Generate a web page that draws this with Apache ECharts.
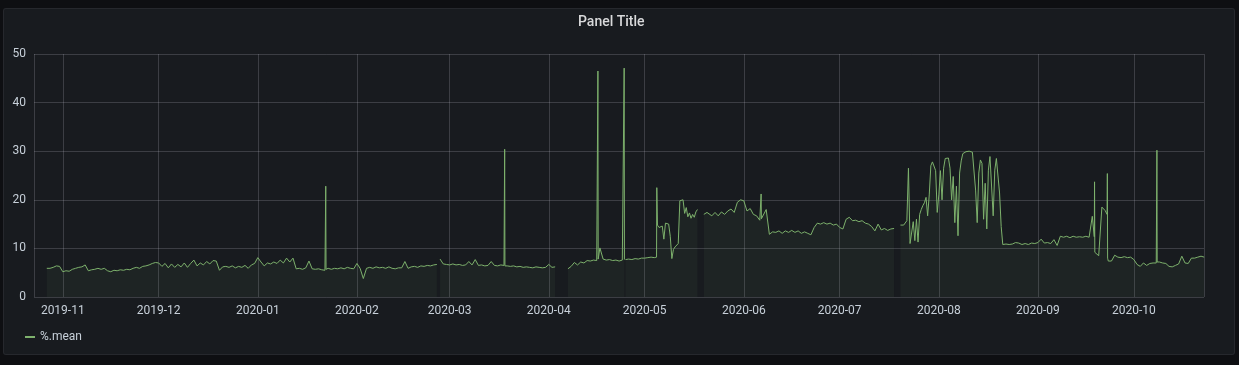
<!DOCTYPE html>
<html><head><meta charset="utf-8">
<script src="https://cdn.jsdelivr.net/npm/echarts@6/dist/echarts.min.js"></script>
<style>
html,body{margin:0;padding:0;background:#0e0f12;width:1239px;height:365px;overflow:hidden}
#panel{position:absolute;left:3px;top:8px;width:1230px;height:345px;background:#181b1f;border:1px solid rgba(204,204,220,0.08);border-radius:3px}
#chart{position:absolute;left:0;top:0;width:1239px;height:365px}
</style></head><body><div id="panel"></div><div id="chart"></div>
<script>
// ---- data ----
const seriesName = '%.mean';
const yTicks = [0, 10, 20, 30, 40, 50];

// daily values, 2019-10-27 .. 2019-11-30
const octNov2019 = [5.9,5.9,6.1,6.4,6.3,5.2,5.4,5.3,5.7,5.9,6.1,6.2,6.6,5.4,5.6,5.7,5.9,5.7,5.9,5.4,5.2,5.5,5.4,5.6,5.5,5.7,5.6,5.9,6.1,5.9,6.3,6.4,6.6,6.9,7.1];
// daily, 2019-12-01 ..
const dec2019 = [7.0,6.3,6.9,6.0,6.8,6.1,6.7,6.2,7.0,6.1,6.9,7.6,6.4,7.0,6.6,7.3,6.8,7.5,7.4,5.5,6.2,6.3,6.1,6.4,6.0,6.3,6.1,6.5,5.9,6.6,6.9];
const jan2020 = [8.1,7.2,6.4,7.0,6.8,7.2,6.9,7.6,7.0,8.0,7.2,8.0,5.8,5.9,5.7,6.0,7.4,5.8,5.7,5.8,5.6,5.5,5.9,5.7,5.9,5.8,6.0,5.8,6.1,5.9,5.8];
const feb2020 = [6.9,5.9,3.8,5.9,6.1,5.9,6.2,6.0,6.1,5.9,6.2,5.9,5.8,6.0,6.0,7.3,5.9,6.2,6.3,6.1,6.4,6.3,6.5,6.4,6.6,6.7,7.8,6.8,6.7];
const mar2020 = [6.6,6.8,6.6,6.7,6.5,6.6,7.3,6.6,7.7,6.5,6.6,6.4,6.5,7.3,6.5,6.4,6.6,6.5,6.4,6.3,6.4,6.2,6.3,6.1,6.2,6.1,6.0,6.2,6.1,6.0,6.1];
const apr2020 = [6.7,6.1,6.2,null,null,null,5.8,6.3,7.1,6.6,7.2,7.0,7.5,7.4,7.6,7.5,10.1,7.8,7.6,7.7,7.5,7.6,7.4,7.6,7.7,7.8,7.7,7.9,7.8,8.0];
const mayEarly2020 = [8.0,8.1,8.2,8.1];
// 12-hourly, 2020-05-05 00:00 .. 2020-05-20 12:00
const mayMid2020 = [14.8,14.3,14.3,14.6,11.9,15.2,15.4,15.0,12.5,7.9,9.8,10.3,10.4,11.0,19.8,20.1,20.0,17.2,18.4,16.5,17.3,16.2,17.0,16.4,17.5,18.0,null,null,null,17.0,16.8,17.4];
// daily, 2020-05-21 .. 2020-07-21
const mayJul2020 = [17.0,16.7,17.4,16.7,17.5,17.0,17.7,18.1,17.4,19.5,20.0,19.8,17.7,18.2,17.0,16.7,15.8,16.4,18.0,12.9,13.4,13.3,13.6,13.1,13.6,13.3,13.7,13.3,13.6,13.1,13.4,13.1,12.8,14.3,15.2,15.0,15.3,15.0,15.2,14.8,15.0,14.3,14.0,16.0,16.4,15.7,15.8,15.5,15.7,15.2,15.0,14.5,13.6,15.0,13.8,14.1,13.7,14.0,14.1,null,14.8,14.8];
// 12-hourly, 2020-07-22 00:00 .. 2020-08-26 12:00
const julAug2020 = [15.7,26.5,11.0,11.3,15.5,11.6,16.0,11.3,17.0,18.0,18.8,19.4,20.5,16.7,21.0,27.0,27.8,27.9,26.0,17.4,21.0,26.0,20.0,26.5,28.5,28.8,28.6,26.5,20.0,24.8,15.3,22.8,12.6,25.5,28.0,29.5,29.7,29.9,29.8,30.0,29.9,29.8,29.6,22.0,15.3,25.5,28.2,27.5,16.0,23.4,14.0,26.1,28.9,28.5,16.7,26.1,28.5,28.3,21.4,14.5,10.8,11.0,10.9,11.0,10.8,11.1,10.9,11.0,11.2,10.9,11.1,11.0];
// daily, 2020-08-27 .. 2020-10-23
const augOct2020 = [10.8,11.0,10.8,11.1,11.0,11.2,11.9,11.1,11.2,11.0,11.8,10.6,12.5,12.3,12.5,12.2,12.5,12.3,12.4,12.3,12.5,12.3,16.6,9.0,8.5,18.5,17.8,7.4,7.4,8.6,8.2,8.1,8.3,8.1,8.2,7.7,6.7,6.3,7.0,6.5,6.9,7.0,7.0,7.2,7.0,6.9,6.3,6.2,6.5,6.8,8.4,7.0,6.9,8.0,8.0,8.2,8.4,8.2];

// short spikes (with their shoulders)
const spikePoints = [
  ['2020-01-22 04:00', 5.6], ['2020-01-22 06:00', 22.8], ['2020-01-22 08:00', 5.7],
  ['2020-03-18 03:00', 6.5], ['2020-03-18 05:00', 30.4], ['2020-03-18 07:00', 6.4],
  ['2020-04-16 07:00', 7.5], ['2020-04-16 09:00', 46.5], ['2020-04-16 11:00', 7.8],
  ['2020-04-24 12:00', 7.6], ['2020-04-24 14:00', 47.1], ['2020-04-24 16:00', 7.7],
  ['2020-05-04 17:00', 8.2], ['2020-05-04 19:00', 22.5],
  ['2020-06-06 08:00', 15.9], ['2020-06-06 10:00', 21.2], ['2020-06-06 12:00', 16.1],
  ['2020-09-18 15:00', 12.4], ['2020-09-18 17:00', 23.7], ['2020-09-18 19:00', 9.2],
  ['2020-09-22 15:00', 17.0], ['2020-09-22 17:00', 25.4], ['2020-09-22 19:00', 8.0],
  ['2020-10-08 03:00', 7.0], ['2020-10-08 05:00', 30.2], ['2020-10-08 07:00', 7.2]
];
// short breaks in the data
const gapMarks = ['2020-02-26 18:00', '2020-04-24 18:00'];

const axisMin = '2019-10-23 00:00';
const axisMax = '2020-10-22 22:30';

// ---- build ----
function parseT(s) {
  const [d, t] = s.split(' ');
  const [y, m, dd] = d.split('-').map(Number);
  const [hh, mm] = (t || '00:00').split(':').map(Number);
  return new Date(y, m - 1, dd, hh, mm).getTime();
}
function seq(start, stepHours, values) {
  const [y, m, d] = start.split('-').map(Number);
  return values.map((v, i) => [new Date(y, m - 1, d, i * stepHours).getTime(), v]);
}
let data = [].concat(
  seq('2019-10-27', 24, octNov2019),
  seq('2019-12-01', 24, dec2019),
  seq('2020-01-01', 24, jan2020),
  seq('2020-02-01', 24, feb2020),
  seq('2020-03-01', 24, mar2020),
  seq('2020-04-01', 24, apr2020),
  seq('2020-05-01', 24, mayEarly2020),
  seq('2020-05-05', 12, mayMid2020),
  seq('2020-05-21', 24, mayJul2020),
  seq('2020-07-22', 12, julAug2020),
  seq('2020-08-27', 24, augOct2020),
  spikePoints.map(p => [parseT(p[0]), p[1]]),
  gapMarks.map(g => [parseT(g), null])
);
data.sort((a, b) => a[0] - b[0]);

const chart = echarts.init(document.getElementById('chart'), null, {renderer: 'canvas'});
const labelColor = '#c7d0d9';
const gridColor = 'rgba(204,204,220,0.2)';
chart.setOption({
  animation: false,
  backgroundColor: 'transparent',
  textStyle: {fontFamily: 'Roboto'},
  title: {
    text: 'Panel Title', left: 578, top: 15, padding: 0,
    textStyle: {color: '#d8d9da', fontSize: 14, fontWeight: 500, fontFamily: 'Roboto'}
  },
  legend: {
    left: 25, top: 331, padding: 0, icon: 'rect', itemWidth: 10, itemHeight: 2,
    textStyle: {color: labelColor, fontSize: 12, fontFamily: 'Roboto'},
    data: [seriesName]
  },
  grid: {left: 34, right: 35, top: 54, bottom: 68, containLabel: false},
  xAxis: {
    type: 'time',
    min: parseT(axisMin), max: parseT(axisMax),
    splitNumber: 12,
    axisLine: {show: false}, axisTick: {show: false},
    splitLine: {show: true, lineStyle: {color: gridColor, width: 1}},
    axisLabel: {
      color: labelColor, fontSize: 12, margin: 8, fontFamily: 'Roboto',
      formatter: v => echarts.time.format(v, '{yyyy}-{MM}', false)
    }
  },
  yAxis: {
    type: 'value', min: yTicks[0], max: yTicks[yTicks.length - 1], interval: 10,
    axisLine: {show: false}, axisTick: {show: false},
    splitLine: {show: true, lineStyle: {color: gridColor, width: 1}},
    axisLabel: {color: labelColor, fontSize: 12, margin: 8, fontFamily: 'Roboto'}
  },
  series: [{
    name: seriesName, type: 'line', data: data, showSymbol: false, symbol: 'none',
    connectNulls: false, sampling: null, smooth: false,
    lineStyle: {color: '#7eb26d', width: 1},
    itemStyle: {color: '#7eb26d'},
    areaStyle: {color: 'rgba(126,178,109,0.09)'}
  }]
});
</script></body></html>
